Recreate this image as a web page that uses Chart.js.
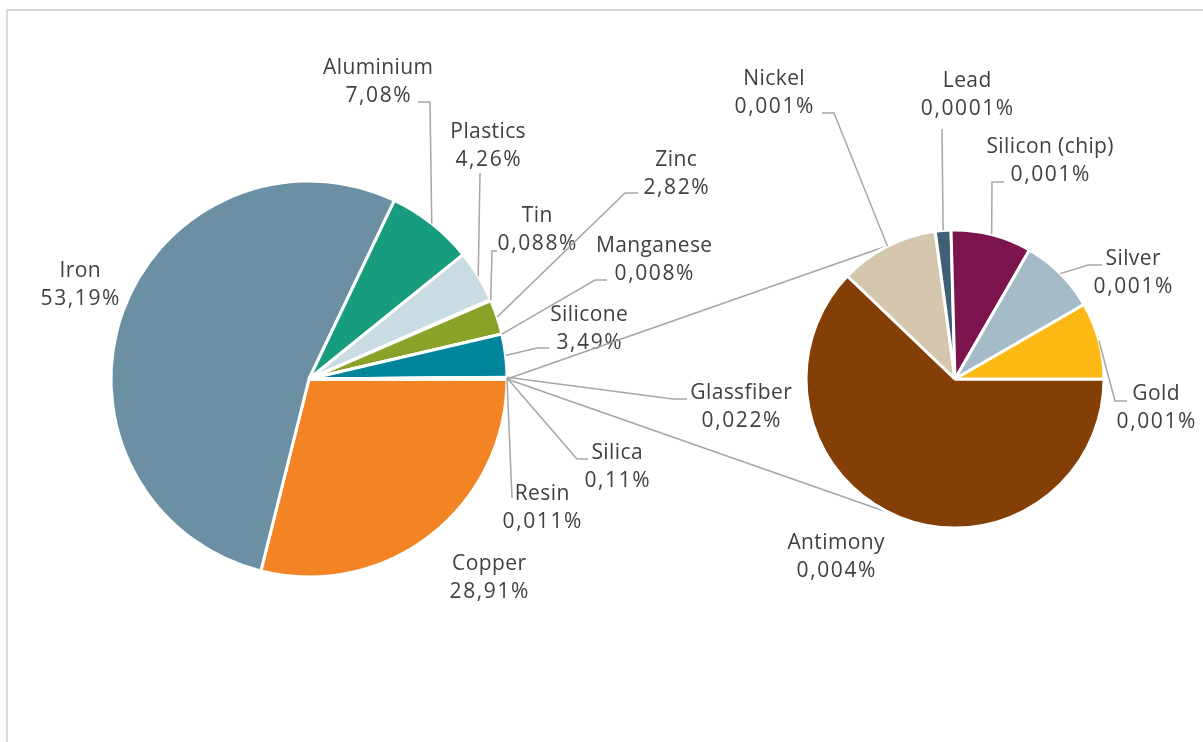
<!DOCTYPE html>
<html>
<head>
<meta charset="utf-8">
<title>Material composition</title>
<script src="https://cdn.jsdelivr.net/npm/chart.js@4.4.1/dist/chart.umd.min.js"></script>
<style>
  html, body { margin: 0; padding: 0; background: #fff; overflow: hidden; }
  #wrap { position: relative; width: 1203px; height: 742px; }
  #frame { position: absolute; left: 6px; top: 9px; width: 1230px; height: 770px; border: 2px solid #dadada; box-sizing: border-box; }
  canvas { position: absolute; left: 0; top: 0; }
</style>
</head>
<body>
<div id="wrap">
  <div id="frame"></div>
  <canvas id="mainPie" width="1203" height="742"></canvas>
  <canvas id="detailPie" width="1203" height="742"></canvas>
</div>
<script>
// share of each material in the whole device, in percent
const mainLabels = ['Copper', 'Iron', 'Aluminium', 'Plastics', 'Tin', 'Zinc', 'Manganese', 'Silicone', 'Glassfiber', 'Silica', 'Resin', 'Other'];
const mainValues = [28.91, 53.19, 7.08, 4.26, 0.088, 2.82, 0.008, 3.49, 0.022, 0.11, 0.011];
const mainDecimals = [2, 2, 2, 2, 3, 2, 3, 2, 3, 2, 3];
const mainColors = ['#F28424', '#6B8FA3', '#179C7D', '#C9DCE4', '#B9CCD6', '#8BA228', '#6F8722', '#00859A', '#9BB1BE', '#5E7F90', '#D1A06B', '#A6A6A6'];

// the trace metals broken out into the second pie
const detailLabels = ['Antimony', 'Nickel', 'Lead', 'Silicon (chip)', 'Silver', 'Gold'];
const detailValues = [0.0044, 0.00076, 0.00012, 0.00062, 0.00059, 0.00059];
const detailDecimals = [3, 3, 4, 3, 3, 3];
const detailColors = ['#843F06', '#D4C7AD', '#3F5F74', '#7C154D', '#A6BBC8', '#FCB914'];

// the "Other" slice of the big pie is the sum of the small pie
const otherValue = detailValues.reduce((a, b) => a + b, 0);

const TEXT_FONT = '21px "Open Sans"';
const TEXT_COLOR = '#404040';
const LINE_COLOR = '#a6a6a6';
const LINE_GAP = 28;

// where each callout sits: first-line baseline and the leader points before the slice
const mainLayout = {
  'Copper':     { x: 489, y: 570 },
  'Iron':       { x: 80, y: 277 },
  'Aluminium':  { x: 378, y: 74, leader: [[418, 102], [430, 102]] },
  'Plastics':   { x: 488, y: 138, leader: [[480, 173]] },
  'Tin':        { x: 537, y: 222, leader: [[497, 251], [492, 251]] },
  'Zinc':       { x: 676, y: 166, leader: [[638, 193], [625, 193]] },
  'Manganese':  { x: 654, y: 252, leader: [[607, 280], [595, 280]] },
  'Silicone':   { x: 589, y: 321, leader: [[549, 348], [537, 348]] },
  'Glassfiber': { x: 741, y: 399, leader: [[687, 399], [673, 399]] },
  'Silica':     { x: 617, y: 459, leader: [[588, 459], [577, 459]] },
  'Resin':      { x: 542, y: 500, leader: [[512, 498]] }
};
const detailLayout = {
  'Antimony':       { x: 836, y: 549 },
  'Nickel':         { x: 774, y: 85, leader: [[822, 113], [834, 113]] },
  'Lead':           { x: 967, y: 87, leader: [[942, 129]] },
  'Silicon (chip)': { x: 1050, y: 153, leader: [[1004, 182], [992, 182]] },
  'Silver':         { x: 1133, y: 265, leader: [[1102, 265], [1088, 265]] },
  'Gold':           { x: 1156, y: 400, leader: [[1127, 401], [1115, 401]] }
};

const fmtPct = (v, d) => v.toFixed(d).replace('.', ',') + '%';

function outerMid(arc) {
  const p = arc.getProps(['x', 'y', 'startAngle', 'endAngle', 'outerRadius'], true);
  const mid = (p.startAngle + p.endAngle) / 2;
  return [p.x + Math.cos(mid) * p.outerRadius, p.y + Math.sin(mid) * p.outerRadius];
}

// centred text with extra tracking (the spacing is shifted back so it stays centred)
function spacedText(ctx, str, x, y, spacing) {
  ctx.letterSpacing = spacing + 'px';
  ctx.fillText(str, x + spacing / 2, y);
  ctx.letterSpacing = '0px';
}

const calloutLabels = {
  id: 'calloutLabels',
  afterDatasetsDraw(chart, args, opts) {
    const ctx = chart.ctx;
    const arcs = chart.getDatasetMeta(0).data;
    const names = chart.data.labels;
    const values = chart.data.datasets[0].data;
    ctx.save();
    ctx.strokeStyle = LINE_COLOR;
    ctx.lineWidth = 1.5;
    ctx.font = TEXT_FONT;
    ctx.fillStyle = TEXT_COLOR;
    ctx.textAlign = 'center';
    ctx.textBaseline = 'alphabetic';
    arcs.forEach((arc, i) => {
      const place = opts.layout[names[i]];
      if (!place) return;
      if (place.leader) {
        const [ax, ay] = outerMid(arc);
        ctx.beginPath();
        ctx.moveTo(place.leader[0][0], place.leader[0][1]);
        place.leader.slice(1).forEach(pt => ctx.lineTo(pt[0], pt[1]));
        ctx.lineTo(ax, ay);
        ctx.stroke();
      }
      spacedText(ctx, names[i], place.x, place.y, 0.4);
      spacedText(ctx, fmtPct(values[i], opts.decimals[i]), place.x, place.y + LINE_GAP, 1.6);
    });
    ctx.restore();
  }
};

const mainChart = new Chart(document.getElementById('mainPie'), {
  type: 'pie',
  data: {
    labels: mainLabels,
    datasets: [{
      data: mainValues.concat([otherValue]),
      backgroundColor: mainColors,
      borderColor: '#ffffff',
      borderWidth: 3
    }]
  },
  options: {
    responsive: false,
    devicePixelRatio: 1,
    animation: false,
    rotation: 90,
    radius: 198,
    layout: { padding: { left: 0, right: 585, top: 16, bottom: 0 } },
    plugins: {
      legend: { display: false },
      tooltip: { enabled: false },
      calloutLabels: { layout: mainLayout, decimals: mainDecimals }
    }
  },
  plugins: [calloutLabels]
});

// lines joining the "Other" slice to the second pie
const seriesLines = {
  id: 'seriesLines',
  beforeDatasetsDraw(chart) {
    const mainArcs = mainChart.getDatasetMeta(0).data;
    const [sx, sy] = outerMid(mainArcs[mainArcs.length - 1]);
    const arc = chart.getDatasetMeta(0).data[0];
    const p = arc.getProps(['x', 'y', 'outerRadius'], true);
    const ctx = chart.ctx;
    ctx.save();
    ctx.strokeStyle = LINE_COLOR;
    ctx.lineWidth = 1.5;
    [116, 244].forEach(deg => {
      const a = deg * Math.PI / 180;
      ctx.beginPath();
      ctx.moveTo(sx, sy);
      ctx.lineTo(p.x + Math.cos(a) * p.outerRadius, p.y + Math.sin(a) * p.outerRadius);
      ctx.stroke();
    });
    ctx.restore();
  }
};

new Chart(document.getElementById('detailPie'), {
  type: 'pie',
  data: {
    labels: detailLabels,
    datasets: [{
      data: detailValues,
      backgroundColor: detailColors,
      borderColor: '#ffffff',
      borderWidth: 3
    }]
  },
  options: {
    responsive: false,
    devicePixelRatio: 1,
    animation: false,
    rotation: 90,
    radius: 149,
    layout: { padding: { left: 707, right: 0, top: 16, bottom: 0 } },
    plugins: {
      legend: { display: false },
      tooltip: { enabled: false },
      calloutLabels: { layout: detailLayout, decimals: detailDecimals }
    }
  },
  plugins: [seriesLines, calloutLabels]
});
</script>
</body>
</html>
